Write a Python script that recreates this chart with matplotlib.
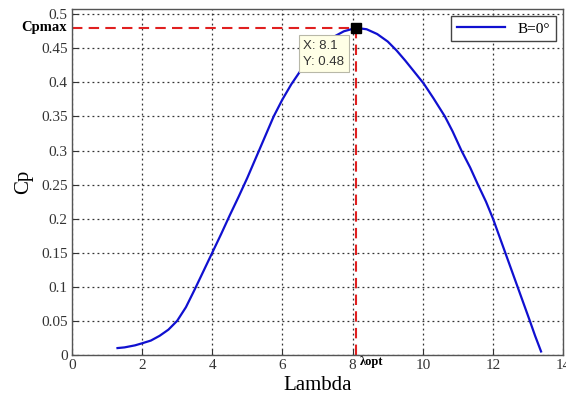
import matplotlib.pyplot as plt
from matplotlib.lines import Line2D

# Cp curve for pitch angle B=0
lam = [1.3, 1.5, 1.8, 2.0, 2.25, 2.5, 2.75, 3.0, 3.25, 3.5, 3.75, 4.0, 4.25,
       4.5, 4.75, 5.0, 5.25, 5.5, 5.75, 6.0, 6.25, 6.5, 6.75, 7.0, 7.25, 7.5,
       7.75, 8.1, 8.4, 8.7, 9.0, 9.25, 9.5, 9.75, 10.03, 10.3, 10.63, 10.85,
       11.1, 11.35, 11.57, 11.8, 12.0, 12.35, 12.7, 13.05, 13.2, 13.37]
cp = [0.010, 0.011, 0.014, 0.017, 0.021, 0.028, 0.037, 0.050, 0.070, 0.096,
      0.123, 0.150, 0.177, 0.205, 0.232, 0.260, 0.290, 0.320, 0.350, 0.375,
      0.397, 0.416, 0.432, 0.446, 0.458, 0.468, 0.475, 0.480, 0.478, 0.471,
      0.460, 0.447, 0.432, 0.416, 0.398, 0.377, 0.350, 0.328, 0.300, 0.275,
      0.250, 0.225, 0.200, 0.150, 0.100, 0.050, 0.028, 0.005]

x_opt, cp_max = 8.1, 0.48
x_ticks = [0, 2, 4, 6, 8, 10, 12, 14]
y_ticks = [0, 0.05, 0.1, 0.15, 0.2, 0.25, 0.3, 0.35, 0.4, 0.45, 0.5]
y_labels = ['0', '0.05', '0.1', '0.15', '0.2', '0.25', '0.3', '0.35', '0.4',
            '0.45', '0.5']

plt.rcParams['font.family'] = ['Liberation Serif', 'DejaVu Serif']

fig = plt.figure(figsize=(5.66, 4.01), dpi=100)
ax = fig.add_axes([0.127, 0.115, 0.868, 0.863])

ax.plot(lam, cp, color='#1010d0', lw=1.6, zorder=3)

# optimum point guides
ax.plot([0, x_opt], [cp_max, cp_max], color='#e02020', ls=(0, (5, 3)), lw=1.5, zorder=2)
ax.plot([x_opt, x_opt], [0, cp_max], color='#e02020', ls=(0, (5, 3)), lw=1.5, zorder=2)
ax.plot([x_opt], [cp_max], marker='s', ms=7, color='black', zorder=5)

ax.text(6.6, 0.442, 'X: 8.1\nY: 0.48', fontsize=9.5, family=['Liberation Sans', 'DejaVu Sans'],
        color='#333333', va='center', ha='left', linespacing=1.45,
        bbox=dict(boxstyle='square,pad=0.35', fc='#ffffe6', ec='#b8b8a8', lw=0.8), zorder=6)

ax.set_xlim(0, 14)
ax.set_ylim(0, 0.508)
ax.set_xticks(x_ticks)
ax.set_yticks(y_ticks)
ax.set_xticklabels([str(t) for t in x_ticks])
ax.set_yticklabels(y_labels)
ax.tick_params(direction='in', length=4, labelsize=11, colors='#333333', pad=3)
ax.grid(True, color='#333333', ls=(0, (1.5, 2.5)), lw=0.9)
for s in ax.spines.values():
    s.set_color('#555555')
    s.set_linewidth(1.0)

ax.text(-0.15, cp_max, 'Cpmax', fontsize=10.5, fontweight='bold', ha='right', va='center',
        clip_on=False)
ax.text(8.2, -0.002, 'λopt', fontsize=9, fontweight='bold', ha='left', va='top',
        clip_on=False)

ax.set_xlabel('Lambda', fontsize=15, labelpad=3)
ax.set_ylabel('Cp', fontsize=15, labelpad=6)

handle = Line2D([], [], color='#1010d0', lw=1.6)
leg = ax.legend([handle], ['B=0°'], loc='upper right', fontsize=11, fancybox=False,
                framealpha=1, edgecolor='#444444', handlelength=3.2,
                borderaxespad=0.5, borderpad=0.35)
leg.get_frame().set_linewidth(1.0)

fig.savefig('out.png', dpi=100)
